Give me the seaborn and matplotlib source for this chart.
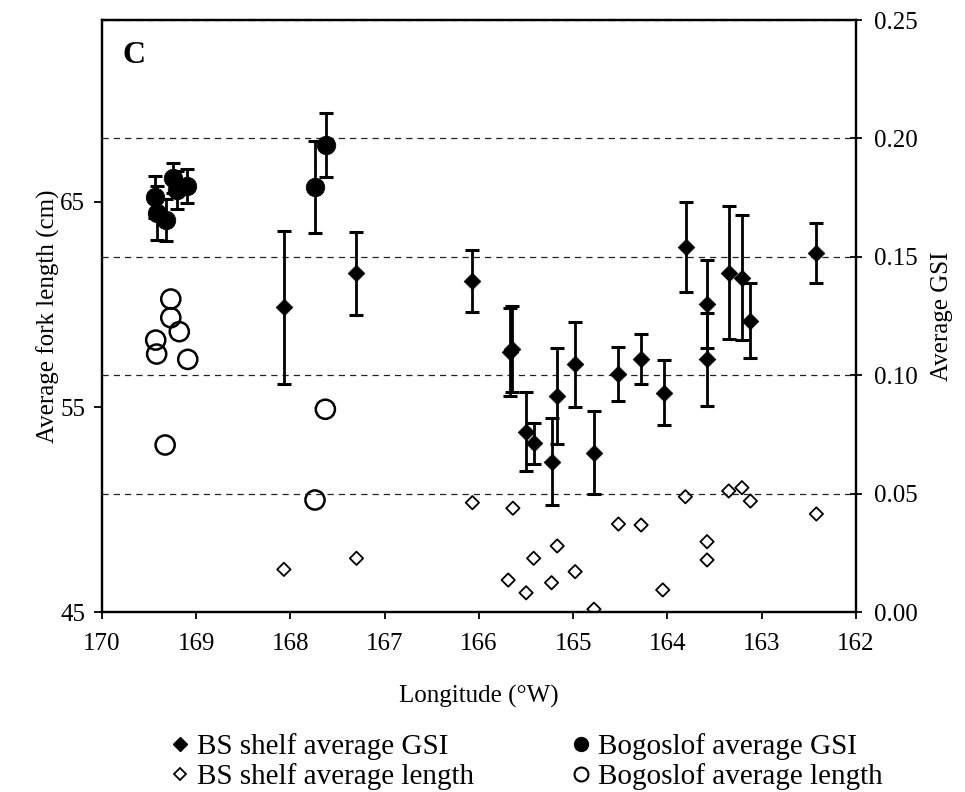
import pandas as pd
import matplotlib
matplotlib.use("Agg")
import matplotlib.pyplot as plt
from matplotlib.lines import Line2D
import seaborn as sns

# Bering Sea shelf: average GSI (right axis) with error bars
bs_gsi_lon = [168.07, 167.30, 166.07, 165.67, 165.65, 165.50, 165.42, 165.23, 165.17,
              164.98, 164.78, 164.52, 164.28, 164.04, 163.80, 163.58, 163.58, 163.35,
              163.21, 163.12, 162.42]
bs_gsi = [0.1287, 0.1431, 0.1398, 0.1100, 0.1111, 0.0762, 0.0713, 0.0636, 0.0914,
          0.1047, 0.0674, 0.1006, 0.1068, 0.0927, 0.1543, 0.1301, 0.1068, 0.1433,
          0.1412, 0.1230, 0.1518]
bs_gsi_err = [0.0324, 0.0176, 0.0131, 0.0185, 0.0183, 0.0166, 0.0085, 0.0183, 0.0203,
              0.0179, 0.0175, 0.0115, 0.0106, 0.0136, 0.0190, 0.0186, 0.0196, 0.0280,
              0.0263, 0.0158, 0.0127]

# Bering Sea shelf: average fork length (left axis)
bs_len_lon = [168.07, 167.30, 166.07, 165.69, 165.64, 165.50, 165.42, 165.23, 165.17,
              164.98, 164.78, 164.52, 164.28, 164.05, 163.81, 163.58, 163.58, 163.35,
              163.21, 163.12, 162.42]
bs_len = [47.09, 47.63, 50.34, 46.57, 50.07, 45.95, 47.63, 46.44, 48.23,
          46.98, 45.15, 49.30, 49.25, 46.09, 50.63, 48.44, 47.55, 50.91,
          51.07, 50.42, 49.79]

# Bogoslof: average GSI (right axis) with error bars
bog_gsi_lon = [169.44, 169.42, 169.32, 169.25, 169.20, 169.10, 167.74, 167.62]
bog_gsi = [0.1753, 0.1686, 0.1656, 0.1833, 0.1783, 0.1799, 0.1796, 0.1972]
bog_gsi_err = [0.0089, 0.0114, 0.0089, 0.0063, 0.0080, 0.0072, 0.0195, 0.0135]

# Bogoslof: average fork length (left axis)
bog_len_lon = [169.27, 169.27, 169.18, 169.43, 169.42, 169.09, 169.33, 167.63, 167.74]
bog_len = [60.26, 59.35, 58.67, 58.26, 57.58, 57.32, 53.15, 54.89, 50.47]

x_ticks = [170, 169, 168, 167, 166, 165, 164, 163, 162]
len_ticks = [45, 55, 65]
gsi_ticks = [0.00, 0.05, 0.10, 0.15, 0.20, 0.25]

bs_gsi_df = pd.DataFrame({"lon": bs_gsi_lon, "gsi": bs_gsi, "err": bs_gsi_err})
bs_len_df = pd.DataFrame({"lon": bs_len_lon, "length": bs_len})
bog_gsi_df = pd.DataFrame({"lon": bog_gsi_lon, "gsi": bog_gsi, "err": bog_gsi_err})
bog_len_df = pd.DataFrame({"lon": bog_len_lon, "length": bog_len})

sns.set_theme(style="white")
plt.rcParams["font.family"] = ["Liberation Serif", "DejaVu Serif"]
plt.rcParams["text.color"] = "black"
plt.rcParams["axes.labelcolor"] = "black"

fig = plt.figure(figsize=(9.65, 7.92), dpi=100)
ax = fig.add_axes([0.1057, 0.2269, 0.7813, 0.7478])
ax2 = ax.twinx()

# lengths on the left axis
sns.scatterplot(data=bs_len_df, x="lon", y="length", marker="D", s=46,
                facecolor="none", edgecolor="black", linewidth=1.3, ax=ax, legend=False)
sns.scatterplot(data=bog_len_df, x="lon", y="length", marker="o", s=190,
                facecolor="none", edgecolor="black", linewidth=1.8, ax=ax, legend=False)

# GSI on the right axis
ax2.set_axisbelow(True)
ax2.grid(axis="y", linestyle=(0, (5, 4)), color="#222222", linewidth=0.9)
for df in (bs_gsi_df, bog_gsi_df):
    ax2.errorbar(df["lon"], df["gsi"], yerr=df["err"], fmt="none", ecolor="black",
                 elinewidth=2.0, capsize=4.8, capthick=2.2, zorder=2)
sns.scatterplot(data=bs_gsi_df, x="lon", y="gsi", marker="D", s=72,
                color="black", edgecolor="black", linewidth=0.5, ax=ax2, legend=False, zorder=3)
sns.scatterplot(data=bog_gsi_df, x="lon", y="gsi", marker="o", s=180,
                color="black", edgecolor="black", linewidth=0.5, ax=ax2, legend=False, zorder=3)

ax.set_xlim(170, 162)
ax.set_ylim(45, 73.85)
ax2.set_ylim(0, 0.25)
ax.set_xticks(x_ticks)
ax.set_xticklabels([str(t) for t in x_ticks])
ax.set_yticks(len_ticks)
ax.set_yticklabels([str(t) for t in len_ticks])
ax2.set_yticks(gsi_ticks)
ax2.set_yticklabels([f"{t:.2f}" for t in gsi_ticks])

fs = 18
ax.tick_params(axis="x", direction="out", length=5, width=1.3, pad=10,
               labelsize=fs, colors="black", bottom=True)
ax.tick_params(axis="y", direction="out", length=6, width=1.3, pad=6,
               labelsize=fs, colors="black", left=True)
ax2.tick_params(axis="y", direction="inout", length=8, width=1.3, pad=9,
                labelsize=fs, colors="black", right=True)

for a in (ax, ax2):
    for sp in a.spines.values():
        sp.set_color("black")
        sp.set_linewidth(1.6)

ax.set_xlabel("Longitude (°W)", fontsize=fs, color="black")
ax.set_ylabel("Average fork length (cm)", fontsize=fs, color="black")
ax2.set_ylabel("Average GSI", fontsize=fs, color="black")
ax.xaxis.set_label_coords(0.5, -0.122)
ax.yaxis.set_label_coords(-0.056, 0.5)
ax2.yaxis.set_label_coords(1.1, 0.5)

ax.text(0.027, 0.965, "C", transform=ax.transAxes, fontsize=23, fontweight="bold",
        va="top", ha="left", color="black")

handles = [
    Line2D([], [], marker="D", linestyle="none", markersize=7.5, color="black"),
    Line2D([], [], marker="D", linestyle="none", markersize=6.5,
           markerfacecolor="none", markeredgecolor="black", markeredgewidth=1.3),
    Line2D([], [], marker="o", linestyle="none", markersize=10, color="black"),
    Line2D([], [], marker="o", linestyle="none", markersize=10,
           markerfacecolor="none", markeredgecolor="black", markeredgewidth=1.5),
]
labels = ["BS shelf average GSI", "BS shelf average length",
          "Bogoslof average GSI", "Bogoslof average length"]
leg = fig.legend(handles, labels, ncol=2, loc="upper left", bbox_to_anchor=(0.178, 0.074),
                 frameon=False, fontsize=21, handlelength=0.55, handletextpad=0.3,
                 columnspacing=3.4, labelspacing=0.1, borderpad=0, borderaxespad=0)
for t in leg.get_texts():
    t.set_color("black")

fig.savefig("out.png", dpi=100)
